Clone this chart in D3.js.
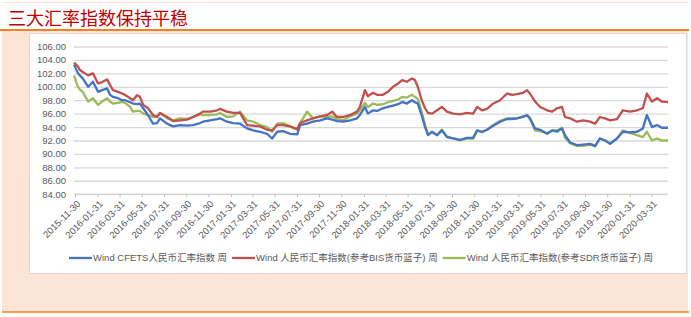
<!DOCTYPE html>
<html lang="zh">
<head>
<meta charset="UTF-8">
<title>三大汇率指数保持平稳</title>
<script src="https://d3js.org/d3.v7.min.js"></script>
<style>
  body { margin: 0; background: #fff; }
  text { font-family: "Liberation Sans", "Noto Sans CJK SC", sans-serif; }
</style>
</head>
<body>
<svg width="691" height="317"></svg>
<script>
// weekly readings (sampled) of the three RMB indices
const dates = [
  "2015-11-27","2015-12-08","2015-12-13","2015-12-21","2016-01-05","2016-01-18","2016-02-01","2016-02-12",
  "2016-02-26","2016-03-05","2016-03-13","2016-03-27","2016-04-07","2016-04-15","2016-04-29","2016-05-07",
  "2016-05-18","2016-05-26","2016-06-04","2016-06-17","2016-07-01","2016-07-12","2016-07-20","2016-08-09",
  "2016-08-25","2016-09-13","2016-10-02","2016-10-19","2016-11-07","2016-11-15","2016-12-05","2016-12-24",
  "2017-01-01","2017-01-20","2017-02-06","2017-02-25","2017-03-16","2017-04-02","2017-04-21","2017-05-10",
  "2017-05-24","2017-06-07","2017-06-23","2017-07-12","2017-08-01","2017-08-09","2017-08-28","2017-09-13",
  "2017-10-03","2017-10-22","2017-11-05","2017-11-18","2017-12-05","2017-12-24","2018-01-12","2018-01-20",
  "2018-02-03","2018-02-11","2018-02-25","2018-03-08","2018-03-24","2018-04-07","2018-04-21","2018-05-05",
  "2018-05-16","2018-05-29","2018-06-12","2018-06-20","2018-06-28","2018-07-10","2018-07-18","2018-07-26",
  "2018-08-06","2018-08-20","2018-09-02","2018-09-16","2018-10-03","2018-10-22","2018-11-10","2018-11-27",
  "2018-12-08","2018-12-21","2019-01-04","2019-01-21","2019-02-09","2019-02-28","2019-03-14","2019-03-27",
  "2019-04-13","2019-04-24","2019-05-02","2019-05-16","2019-05-30","2019-06-18","2019-07-02","2019-07-15",
  "2019-07-29","2019-08-06","2019-08-20","2019-09-08","2019-09-25","2019-10-14","2019-10-28","2019-11-10",
  "2019-11-24","2019-12-08","2019-12-27","2020-01-12","2020-02-01","2020-02-20","2020-03-07","2020-03-18",
  "2020-04-01","2020-04-15","2020-04-28","2020-05-15"
];

const cfets = [
  103.3,102.0,101.7,101.25,100.0,100.75,99.25,99.5,
  99.75,98.8,98.5,98.3,98.0,98.0,97.7,97.5,
  97.4,97.5,96.8,95.8,94.5,94.6,95.3,94.5,
  94.1,94.3,94.2,94.3,94.6,94.8,95.0,95.2,
  95.3,94.8,94.6,94.5,93.8,93.5,93.3,93.0,
  92.3,93.3,93.4,93.0,92.9,94.3,94.5,94.8,
  95.0,95.3,95.1,94.9,94.8,95.0,95.3,95.8,
  97.0,96.0,96.5,96.4,96.8,97.0,97.2,97.4,
  97.75,97.5,98.0,97.7,97.5,95.5,94.0,92.8,
  93.3,92.8,93.5,92.5,92.3,92.1,92.4,92.4,
  93.5,93.3,93.6,94.2,94.8,95.2,95.2,95.3,
  95.5,95.8,95.3,93.8,93.6,93.0,93.5,93.3,
  93.8,92.8,91.7,91.3,91.4,91.5,91.2,92.3,
  92.0,91.5,92.3,93.3,93.2,93.3,93.8,95.8,
  94.0,94.3,93.9,93.9
];

const bis = [
  103.6,103.0,102.5,102.2,101.7,102.0,100.5,100.7,
  101.1,100.25,99.5,99.25,99.0,98.8,98.3,98.0,
  98.75,98.5,97.3,96.8,95.8,95.5,96.1,95.5,
  94.9,95.0,95.1,95.5,96.0,96.3,96.3,96.5,
  96.7,96.3,96.1,96.1,94.3,94.2,94.1,93.6,
  93.5,94.3,94.3,94.1,93.7,94.6,95.0,95.3,
  95.6,95.8,96.3,95.5,95.5,95.8,96.3,97.0,
  99.5,98.6,99.1,98.8,98.8,99.25,100.0,100.5,
  101.0,100.75,101.25,101.0,100.0,97.8,96.8,96.1,
  96.0,96.5,97.0,96.3,96.0,95.9,96.1,96.0,
  97.0,96.5,96.7,97.5,98.0,99.0,98.8,98.9,
  99.1,99.5,99.0,97.8,97.0,96.5,96.3,96.8,
  97.0,95.5,95.3,94.8,95.0,94.8,94.5,95.5,
  95.3,95.0,95.2,96.5,96.3,96.5,96.8,99.0,
  97.8,98.3,97.8,97.7
];

const sdr = [
  101.7,100.0,99.6,99.25,97.8,98.3,97.3,97.8,
  98.3,97.8,97.5,97.6,97.75,97.6,97.0,96.3,
  96.4,96.4,96.0,95.8,95.5,95.6,96.1,95.3,
  95.0,95.3,95.2,95.5,95.9,95.8,95.8,95.9,
  96.1,95.5,95.6,96.3,95.0,94.8,94.3,94.0,
  93.3,94.5,94.6,94.1,93.6,94.6,96.3,95.3,
  95.6,95.5,95.6,95.2,95.0,95.6,96.0,96.5,
  97.6,97.0,97.5,97.3,97.4,97.7,97.9,98.1,
  98.5,98.4,98.8,98.5,98.2,96.0,94.3,93.0,
  93.2,92.8,93.6,92.6,92.3,92.0,92.3,92.3,
  93.5,93.2,93.6,94.3,94.9,95.3,95.3,95.3,
  95.6,95.7,95.2,93.5,93.4,93.1,93.5,93.5,
  93.9,92.4,91.6,91.2,91.2,91.4,91.1,92.3,
  92.0,91.6,92.3,93.5,93.1,92.8,92.5,93.3,
  92.0,92.3,92.0,92.0
];

const seriesNames = [
  "Wind CFETS人民币汇率指数 周",
  "Wind 人民币汇率指数(参考BIS货币篮子) 周",
  "Wind 人民币汇率指数(参考SDR货币篮子) 周"
];
const seriesColors = ["#4472c4", "#c0504d", "#9bbb59"];

const tickLabels = [
  "2015-11-30","2016-01-31","2016-03-31","2016-05-31","2016-07-31","2016-09-30","2016-11-30",
  "2017-01-31","2017-03-31","2017-05-31","2017-07-31","2017-09-30","2017-11-30",
  "2018-01-31","2018-03-31","2018-05-31","2018-07-31","2018-09-30","2018-11-30",
  "2019-01-31","2019-03-31","2019-05-31","2019-07-31","2019-09-30","2019-11-30",
  "2020-01-31","2020-03-31"
];
const yTicks = [84, 86, 88, 90, 92, 94, 96, 98, 100, 102, 104, 106];

const parse = d3.timeParse("%Y-%m-%d");
const fmt = d3.timeFormat("%Y-%m-%d");
const dateObjs = dates.map(parse);

const svg = d3.select("svg");

// page frame: title, orange rules, peach band, white chart panel
svg.append("line").attr("x1", 2).attr("x2", 688).attr("y1", 2.5).attr("y2", 2.5)
  .attr("stroke", "#fbe0d0").attr("stroke-width", 1);
svg.append("text").attr("x", 8).attr("y", 25)
  .style("font-family", "'Noto Sans CJK SC', sans-serif")
  .style("font-size", "18px").attr("fill", "#c00000")
  .text("三大汇率指数保持平稳");
svg.append("rect").attr("x", 2).attr("y", 31).attr("width", 686).attr("height", 281)
  .attr("fill", "#fce4d6");
svg.append("line").attr("x1", 0).attr("x2", 689).attr("y1", 30).attr("y2", 30)
  .attr("stroke", "#f58025").attr("stroke-width", 1.8);
svg.append("line").attr("x1", 2).attr("x2", 689).attr("y1", 312).attr("y2", 312)
  .attr("stroke", "#f58025").attr("stroke-width", 1.5);
svg.append("rect").attr("x", 29.5).attr("y", 33.5).attr("width", 657).attr("height", 240)
  .attr("fill", "#fff").attr("stroke", "#d9d9d9").attr("stroke-width", 1);

// scales
const x = d3.scaleTime()
  .domain([dateObjs[0], dateObjs[dateObjs.length - 1]])
  .range([74, 668]);
const y = d3.scaleLinear().domain([84, 106]).range([194.2, 46.5]);

// gridlines + y labels
const yAxis = d3.axisLeft(y).tickValues(yTicks).tickSize(-(668 - 74))
  .tickPadding(8).tickFormat(d3.format(".2f"));
const gy = svg.append("g").attr("transform", "translate(74,0)").call(yAxis);
gy.select(".domain").remove();
gy.selectAll(".tick line").attr("stroke", "#d9d9d9").attr("stroke-width", 1.3);
gy.selectAll(".tick text").attr("fill", "#595959").style("font-size", "9.5px");
gy.selectAll(".tick").filter(d => d === 84).select("line").remove();

// x axis
const xAxis = d3.axisBottom(x).tickValues(tickLabels.map(parse))
  .tickSize(3).tickFormat(fmt);
const gx = svg.append("g").attr("transform", "translate(0,194.2)").call(xAxis);
gx.select(".domain").attr("d", "M74,0H668").attr("stroke", "#bfbfbf");
gx.selectAll(".tick line").attr("stroke", "#bfbfbf");
gx.selectAll(".tick text")
  .attr("fill", "#595959").style("font-size", "9.5px")
  .attr("text-anchor", "end")
  .attr("transform", "translate(3,8) rotate(-45)")
  .attr("dy", "0.35em").attr("y", 0).attr("x", 0);

// lines
const allSeries = [cfets, bis, sdr];
const line = d3.line().x((d, i) => x(dateObjs[i])).y(d => y(d));
[2, 0, 1].forEach(k => {
  svg.append("path").datum(allSeries[k])
    .attr("fill", "none").attr("stroke", seriesColors[k])
    .attr("stroke-width", 2.3).attr("stroke-linejoin", "round")
    .attr("d", line);
});

// legend
const legend = svg.append("g").attr("transform", "translate(0,258)");
let lx = 0;
const items = seriesNames.map((name, k) => {
  const g = legend.append("g");
  g.append("line").attr("x1", 0).attr("x2", 23).attr("y1", 0).attr("y2", 0)
    .attr("stroke", seriesColors[k]).attr("stroke-width", 2.3);
  const t = g.append("text").attr("x", 24).attr("y", 0).attr("dy", "0.35em")
    .attr("fill", "#595959").style("font-size", "9.5px")
    .style("font-family", "'Liberation Sans', 'Noto Sans CJK SC', sans-serif")
    .text(name);
  const w = 24 + t.node().getComputedTextLength();
  g.attr("transform", `translate(${lx},0)`);
  lx += w + 5;
  return g;
});
const totalW = lx - 5;
legend.attr("transform", `translate(${361 - totalW / 2},258)`);
</script>
</body>
</html>
